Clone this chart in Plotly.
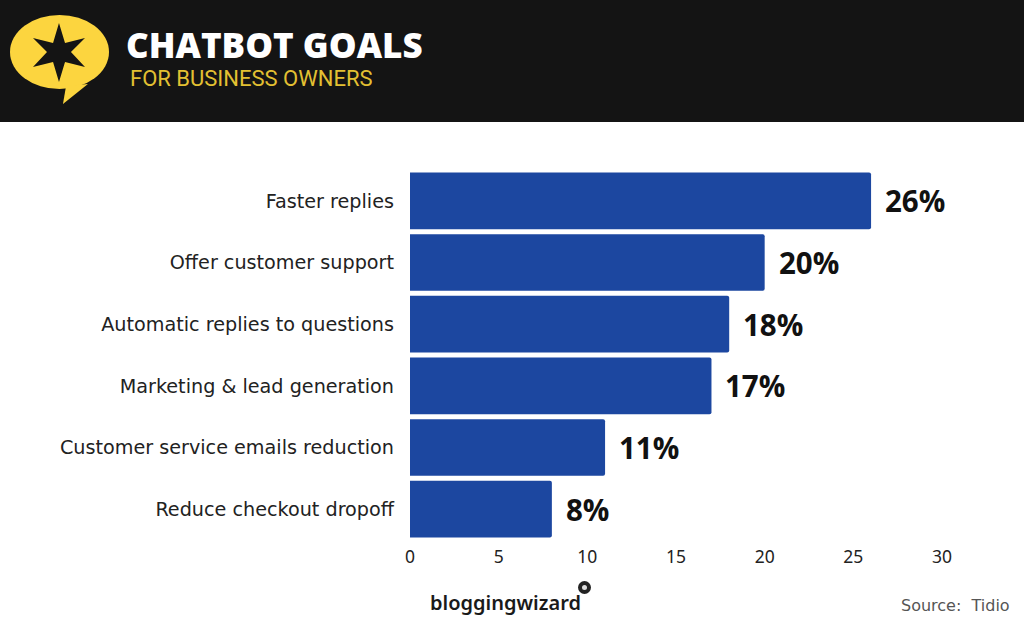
import plotly.graph_objects as go

categories = ["Faster replies", "Offer customer support", "Automatic replies to questions",
              "Marketing &amp; lead generation", "Customer service emails reduction", "Reduce checkout dropoff"]
values = [26, 20, 18, 17, 11, 8]
value_labels = ["26%", "20%", "18%", "17%", "11%", "8%"]
x_ticks = [0, 5, 10, 15, 20, 25, 30]
title_text = "CHATBOT GOALS"
subtitle_text = "FOR BUSINESS OWNERS"
source_text = "Source:  Tidio"
logo_text = "bloggingwizard"

W, H = 1024, 637
BLUE = "#1c47a0"; YELLOW = "#fcd53f"; DARK = "#141414"

def px(x): return x / W
def py(y): return 1 - y / H
def path(points):
    return "M " + " L ".join(f"{px(a):.4f},{py(b):.4f}" for a, b in points) + " Z"

fig = go.Figure(go.Bar(
    y=categories, x=values, orientation="h",
    marker=dict(color=BLUE, cornerradius=2, line=dict(width=0)),
    hoverinfo="skip",
))

star = [(59,23),(65,43),(85,38),(71,52),(85,67),(65,62),(59,82),(53,62),(33,67),(47,52),(33,38),(53,43)]
shapes = [
    dict(type="rect", xref="paper", yref="paper", x0=0, x1=1, y0=py(122), y1=1, fillcolor=DARK, line_width=0, layer="below"),
    dict(type="circle", xref="paper", yref="paper", x0=px(10), x1=px(109), y0=py(89), y1=py(15), fillcolor=YELLOW, line_width=0),
    dict(type="path", xref="paper", yref="paper", path=path([(66,86),(63,104),(88,84)]), fillcolor=YELLOW, line_width=0),
    dict(type="path", xref="paper", yref="paper", path=path(star), fillcolor=DARK, line_width=0),
    dict(type="circle", xref="paper", yref="paper", x0=px(578), x1=px(591), y0=py(594), y1=py(581), fillcolor="#222222", line_width=0),
    dict(type="circle", xref="paper", yref="paper", x0=px(582), x1=px(587), y0=py(590), y1=py(585), fillcolor="#dddddd", line_width=0),
]

def label(x, y, text, size, color, family, anchor="left", weight=None, height=None):
    return dict(xref="paper", yref="paper", x=px(x), y=py(y), text=text, showarrow=False,
                xanchor=anchor, yanchor="middle", align=anchor, height=height,
                font=dict(size=size, color=color, family=family, weight=weight))

annotations = [
    label(124, 44, title_text, 35, "white", "Open Sans", weight=800, height=30),
    label(128, 78, subtitle_text, 22, "#e3c032", "Roboto", height=26),
    label(428, 602, logo_text, 20, "#1a1a1a", "Noto Sans", weight=600),
    label(1012, 605, source_text, 16, "#555555", "DejaVu Sans", anchor="right"),
]
for cat, v, t in zip(categories, values, value_labels):
    annotations.append(dict(x=v, y=cat, xref="x", yref="y", text=t, showarrow=False, xanchor="left",
                            xshift=12, yshift=0,
                            font=dict(size=29.5, color="#111111", family="Open Sans", weight=700)))

fig.update_layout(
    width=W, height=H, autosize=False,
    margin=dict(l=0, r=0, t=0, b=0),
    paper_bgcolor="white", plot_bgcolor="white",
    showlegend=False, bargap=0.08,
    shapes=shapes, annotations=annotations,
    xaxis=dict(domain=[px(410), px(942)], range=[0, 30], tickvals=x_ticks, showgrid=False, zeroline=False,
               automargin=False, showline=False, ticks="", ticklabelstandoff=4,
               tickfont=dict(size=17.5, color="#222222", family="Noto Sans"), anchor="y"),
    yaxis=dict(domain=[py(540), py(170)], autorange="reversed", showgrid=False, showline=False, ticks="",
               automargin=False, ticklabelstandoff=15,
               tickfont=dict(size=19.2, color="#222222", family="DejaVu Sans"), anchor="x"),
)
fig.write_html("out.html", config=dict(displayModeBar=False),
               post_script="document.body.style.margin='0';document.body.style.overflow='hidden';")
